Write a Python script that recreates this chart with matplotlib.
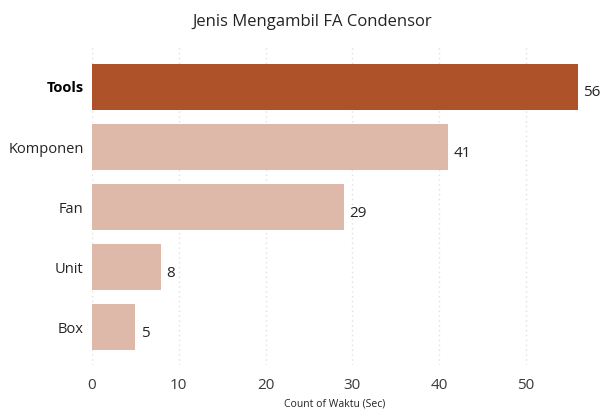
import matplotlib.pyplot as plt

categories = ['Tools', 'Komponen', 'Fan', 'Unit', 'Box']
counts = [56, 41, 29, 8, 5]
highlight = 'Tools'

plt.rcParams['font.family'] = ['Open Sans', 'DejaVu Sans']

fig = plt.figure(figsize=(6.01, 4.12), dpi=100)
ax = fig.add_axes([0.153, 0.114, 0.809, 0.777])

colors = ['#AD5229' if c == highlight else '#DEB8A9' for c in categories]
pos = range(len(categories))
bars = ax.barh(pos, counts, height=0.77, color=colors, zorder=2)

for rect, v in zip(bars, counts):
    ax.text(rect.get_width() + 0.6, rect.get_y() + rect.get_height() / 2 + 0.1,
            str(v), va='center', ha='left', fontsize=11, color='#252423')

ax.set_xlim(0, 56)
ax.set_ylim(4.63, -0.7)
ax.set_yticks(list(pos))
ax.set_yticklabels(categories, fontsize=10.5, color='#252423')
for lbl in ax.get_yticklabels():
    if lbl.get_text() == highlight:
        lbl.set_fontweight('bold')
        lbl.set_color('black')

ax.set_xticks([0, 10, 20, 30, 40, 50])
ax.tick_params(axis='x', labelsize=11, labelcolor='#3b3a39', length=0, pad=9)
ax.tick_params(axis='y', length=0, pad=6)
ax.grid(axis='x', linestyle=(0, (1, 2.5)), color='#e0e0e0', linewidth=1, zorder=0)
for s in ax.spines.values():
    s.set_visible(False)

ax.set_xlabel('Count of Waktu (Sec)', fontsize=7.5, color='#252423', labelpad=4)
fig.text(0.52, 0.947, 'Jenis Mengambil FA Condensor', ha='center', va='center',
         fontsize=12, color='#252423', fontweight='medium')

fig.savefig('out.png', dpi=100)
